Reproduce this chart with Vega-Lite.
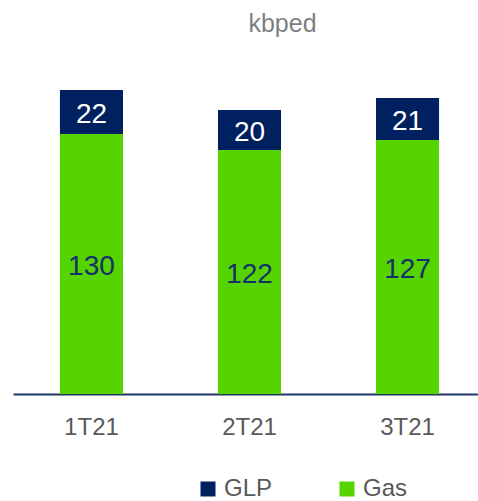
{
  "$schema": "https://vega.github.io/schema/vega-lite/v6.json",
  "width": 465,
  "height": 344,
  "autosize": "none",
  "padding": {"left": 13, "top": 50, "right": 0, "bottom": 107},
  "background": "white",
  "title": {"text": "kbped", "fontSize": 25, "font": "Liberation Sans", "fontWeight": "normal", "color": "#7F7F7F", "anchor": "middle", "dx": 37, "offset": 13},
  "config": {"view": {"stroke": null}, "font": "Liberation Sans"},
  "data": {"values": [
    {"period": "1T21", "product": "Gas", "value": 130},
    {"period": "1T21", "product": "GLP", "value": 22},
    {"period": "2T21", "product": "Gas", "value": 122},
    {"period": "2T21", "product": "GLP", "value": 20},
    {"period": "3T21", "product": "Gas", "value": 127},
    {"period": "3T21", "product": "GLP", "value": 21}
  ]},
  "encoding": {
    "x": {
      "field": "period", "type": "nominal", "sort": null,
      "scale": {"range": [0, 473], "paddingInner": 0.601, "paddingOuter": 0.297},
      "axis": {"title": null, "labelAngle": 0, "ticks": false, "domainColor": "#1F3864", "domainWidth": 2, "labelFontSize": 24, "labelColor": "#595959", "labelFont": "Liberation Sans", "labelBaseline": "alphabetic", "labelPadding": 40}
    }
  },
  "layer": [
    {
      "mark": {"type": "bar"},
      "encoding": {
        "y": {"field": "value", "type": "quantitative", "stack": "zero", "scale": {"domain": [0, 172], "nice": false}, "axis": null},
        "color": {
          "field": "product", "type": "nominal",
          "scale": {"domain": ["GLP", "Gas"], "range": ["#002060", "#55D400"]},
          "legend": {"title": null, "orient": "none", "legendX": 183, "legendY": 427, "direction": "horizontal", "columns": 2, "columnPadding": 62, "symbolType": "square", "symbolSize": 225, "symbolStrokeWidth": 0, "symbolOpacity": 1, "labelFontSize": 24, "labelColor": "#595959", "labelFont": "Liberation Sans", "labelOffset": 4}
        },
        "order": {"field": "product", "sort": "descending"}
      }
    },
    {
      "mark": {"type": "text", "fontSize": 28, "font": "Liberation Sans", "dy": 3},
      "encoding": {
        "y": {"field": "value", "type": "quantitative", "stack": "zero", "bandPosition": 0.5},
        "text": {"field": "value", "type": "quantitative"},
        "color": {"field": "product", "type": "nominal", "scale": {"domain": ["GLP", "Gas"], "range": ["#FFFFFF", "#14306A"]}, "legend": null},
        "order": {"field": "product", "sort": "descending"}
      }
    }
  ],
  "resolve": {"scale": {"color": "independent"}}
}
